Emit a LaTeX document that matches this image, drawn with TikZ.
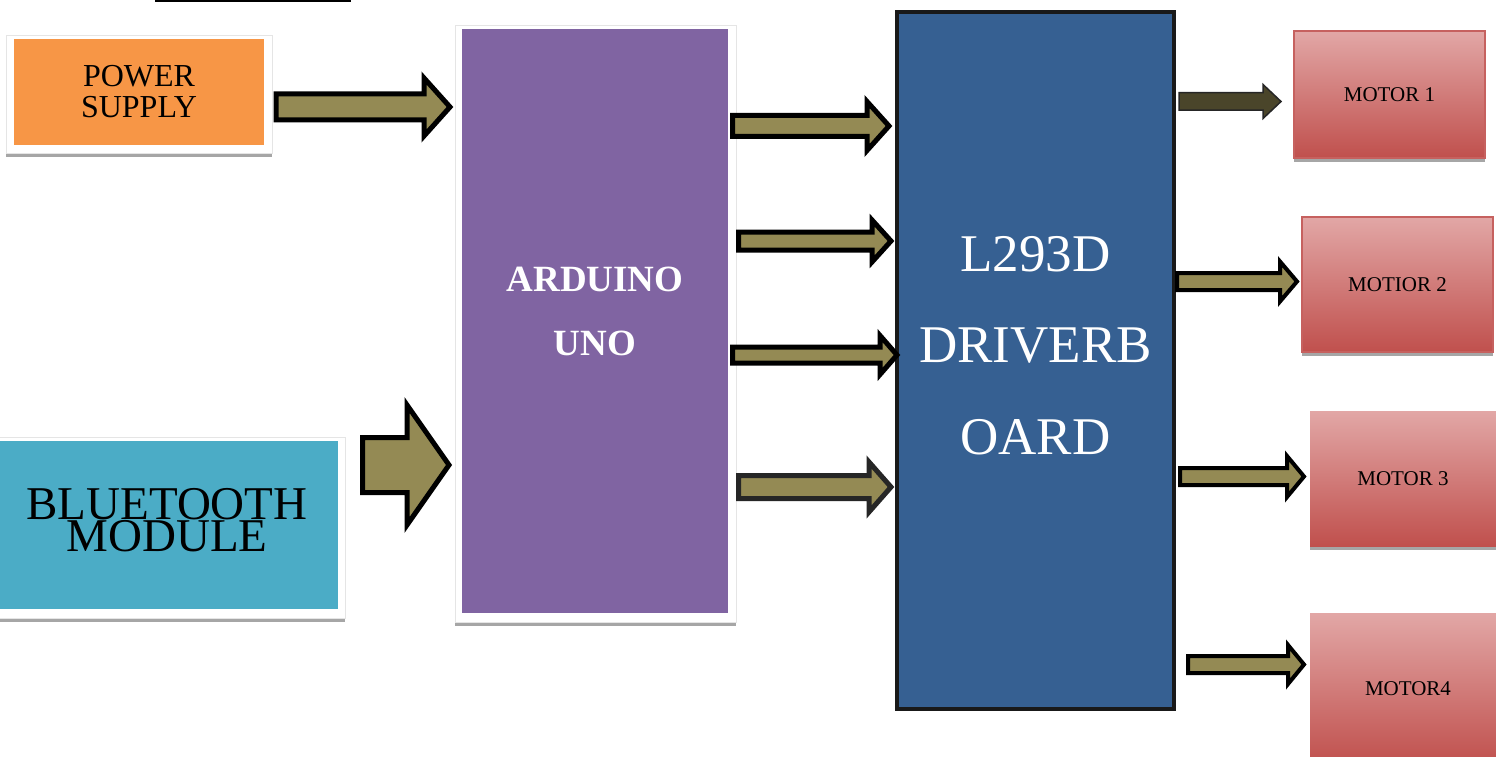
\documentclass[tikz,border=0pt]{standalone}
\usepackage{fontspec}
\setmainfont{Liberation Serif}
\usepackage{tikz}
\usetikzlibrary{calc,shadows}
\definecolor{psorange}{HTML}{F79646}
\definecolor{ardpurple}{HTML}{8064A2}
\definecolor{btcyan}{HTML}{4BACC6}
\definecolor{drvblue}{HTML}{366092}
\definecolor{olive}{HTML}{948A54}
\definecolor{darkolive}{HTML}{4A452A}
\definecolor{mtop}{HTML}{E2A7A6}
\definecolor{mred}{HTML}{C0504D}
\tikzset{box/.style={inner sep=0pt,outer sep=0pt,align=center},frame/.style={box,fill=white,draw=black!10,line width=.8pt,drop shadow={shadow xshift=0pt,shadow yshift=-4pt,fill=black!35,opacity=1}},motor/.style={box,top color=mtop,bottom color=mred,font=\fontsize{21}{21}\selectfont,drop shadow={shadow xshift=0pt,shadow yshift=-4pt,fill=black!35,opacity=1}},motorb/.style={motor,draw=mred!90!white,line width=1.2pt},arr/.style={fill=olive,draw=black,line width=5pt,line join=miter},arrgrey/.style={arr,draw=black!85},arrthin/.style={arr,line width=4pt},arrdark/.style={arr,fill=darkolive,draw=black!85,line width=1.5pt}}
\newcommand{\blockarr}[7][arr]{\coordinate (ba-y) at (0,#4);
\path (#2) coordinate (ba-a) (#3) coordinate (ba-b);
\draw[#1] ($(ba-a |- ba-y)+(0,#5)$) -- ($(ba-b |- ba-y)+(-#7,#5)$) -- ($(ba-b |- ba-y)+(-#7,#6)$) -- (ba-b |- ba-y) -- ($(ba-b |- ba-y)+(-#7,-#6)$) -- ($(ba-b |- ba-y)+(-#7,-#5)$) -- ($(ba-a |- ba-y)+(0,-#5)$) -- cycle;}

\begin{document}
\begin{tikzpicture}[x=1pt,y=-1pt]
\fill[white] (0,0) rectangle (1496,757);
\useasboundingbox (0,0) rectangle (1496,757);
\fill (155,0) rectangle (351,2.5);
\node[frame,minimum width=266,minimum height=118] (psf) at (139,94) {};
\node[box,fill=psorange,minimum width=250,minimum height=106,font=\fontsize{32}{31}\selectfont] (ps) at (139,92) {POWER\\SUPPLY};
\node[frame,minimum width=281,minimum height=597] (arduf) at (595.5,323.5) {};
\node[box,fill=ardpurple,minimum width=266,minimum height=584,text=white,text depth=20pt,font=\fontsize{37}{64}\selectfont\bfseries] (ardu) at (595,321) {ARDUINO\\UNO};
\node[frame,minimum width=356,minimum height=181] (btf) at (167,527.5) {};
\node[box,fill=btcyan,minimum width=342,minimum height=168,text depth=11pt,font=\fontsize{47}{32}\selectfont] (bt) at (167,525) {BLUETOOTH\\MODULE};
\node[box,fill=drvblue,draw=black!90,line width=4.5pt,minimum width=277,minimum height=697,text=white,text depth=31pt,font=\fontsize{53}{91.5}\selectfont] (drv) at (1035.5,360.5) {L293D\\DRIVERB\\OARD};
\node[motorb,minimum width=191,minimum height=127] (m1) at (1389.5,94.5) {MOTOR 1};
\node[motorb,minimum width=191,minimum height=135] (m2) at (1397.5,284.5) {MOTIOR 2};
\node[motor,minimum width=186,minimum height=135] (m3) at (1403,478.5) {MOTOR 3};
\node[motor,minimum width=196,minimum height=152] (m4) at (1408,689) {MOTOR4};
\blockarr{$(psf.east)+(4,0)$}{$(arduf.west)+(-5,0)$}{107}{13}{29}{26}
\blockarr{$(btf.east)+(17.5,0)$}{$(arduf.west)+(-6,0)$}{465}{27.5}{60}{42}
\blockarr{$(arduf.east)+(-3.5,0)$}{$(drv.west)+(-8,0)$}{126}{10.5}{24.5}{22}
\blockarr{$(arduf.east)+(2.5,0)$}{$(drv.west)+(-6,0)$}{241}{9}{21}{19}
\blockarr{$(arduf.east)+(-3.5,0)$}{drv.west}{355}{8}{19.5}{17}
\blockarr[arrgrey]{$(arduf.east)+(2.5,0)$}{$(drv.west)+(-6,0)$}{487}{11.5}{25}{22}
\blockarr[arrdark]{$(drv.east)+(5,0)$}{$(m1.west)+(-13,0)$}{101.5}{8.75}{17}{18}
\blockarr[arrthin]{$(drv.east)+(3,0)$}{$(m2.west)+(-5,0)$}{281.5}{8.5}{20}{17}
\blockarr[arrthin]{$(drv.east)+(6,0)$}{$(m3.west)+(-6,0)$}{476.5}{8.5}{20.5}{17}
\blockarr[arrthin]{$(drv.east)+(14,0)$}{$(m4.west)+(-6,0)$}{664.5}{8.5}{19.5}{16}
\end{tikzpicture}
\end{document}
